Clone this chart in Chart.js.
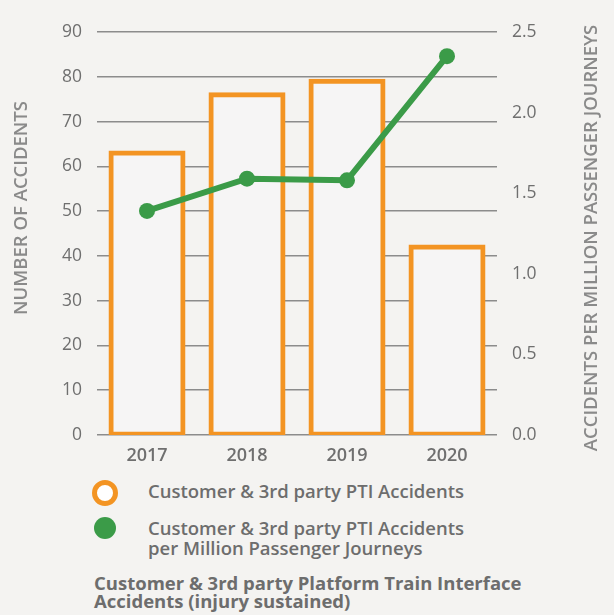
<!DOCTYPE html>
<html>
<head>
<meta charset="utf-8">
<script src="https://cdn.jsdelivr.net/npm/chart.js@4"></script>
<style>
  html, body { margin: 0; padding: 0; background: #f4f3f1; }
  body { width: 614px; height: 615px; position: relative; overflow: hidden; font-family: "Open Sans", sans-serif; }
  #wrap { position: absolute; left: 0; top: 0; width: 614px; height: 470px; }
  .txt { position: absolute; left: 148px; color: #6d6d6d; font-weight: 600; font-size: 18.5px; line-height: 20px; white-space: nowrap; }
  .mark { position: absolute; border-radius: 50%; box-sizing: border-box; }
  #note { position: absolute; left: 94px; top: 574px; color: #6d6d6d; font-weight: 700; font-size: 18.5px; line-height: 18px; white-space: nowrap; }
</style>
</head>
<body>
<div id="wrap"><canvas id="chart"></canvas></div>

<div class="mark" style="left:92px; top:480px; width:26px; height:26px; border:5px solid #f39423; background:#ffffff;"></div>
<div class="txt" id="leg-bars" style="top:481px;"></div>
<div class="mark" style="left:94px; top:517px; width:22px; height:22px; background:#3b9b48;"></div>
<div class="txt" id="leg-line" style="top:518px;"></div>
<div id="note">Customer &amp; 3rd party Platform Train Interface<br>Accidents (injury sustained)</div>

<script>
// ---- data ----
const years = ['2017', '2018', '2019', '2020'];
const accidents = [63, 76, 79, 42];
const perMillion = [1.39, 1.59, 1.58, 2.35];
const leftTicks = [0, 10, 20, 30, 40, 50, 60, 70, 80, 90];
const rightTicks = [0, 0.5, 1.0, 1.5, 2.0, 2.5];

const barLabel = 'Customer & 3rd party PTI Accidents';
const lineLabel = ['Customer & 3rd party PTI Accidents', 'per Million Passenger Journeys'];
const leftTitle = 'NUMBER OF ACCIDENTS';
const rightTitle = 'ACCIDENTS PER MILLION PASSENGER JOURNEYS';

document.getElementById('leg-bars').textContent = barLabel;
const legLine = document.getElementById('leg-line');
lineLabel.forEach((t, i) => {
  if (i) legLine.appendChild(document.createElement('br'));
  legLine.appendChild(document.createTextNode(t));
});

const ORANGE = '#f39423';
const GREEN = '#3b9b48';
const TICK = '#6f6f6f';
const TITLE = '#8a8a8a';

// rotated axis titles
const axisTitles = {
  id: 'axisTitles',
  afterDraw(chart) {
    const ctx = chart.ctx;
    [[leftTitle, 22, 208], [rightTitle, 592, 238]].forEach(([text, x, y]) => {
      ctx.save();
      ctx.fillStyle = TITLE;
      ctx.font = '600 18.5px "Open Sans"';
      ctx.textAlign = 'center';
      ctx.textBaseline = 'middle';
      ctx.translate(x, y);
      ctx.rotate(-Math.PI / 2);
      ctx.fillText(text, 0, 0);
      ctx.restore();
    });
  }
};

new Chart(document.getElementById('chart'), {
  type: 'bar',
  data: {
    labels: years,
    datasets: [
      {
        type: 'line',
        label: lineLabel.join(' '),
        data: perMillion,
        yAxisID: 'y1',
        borderColor: GREEN,
        backgroundColor: GREEN,
        borderWidth: 6,
        pointRadius: 8,
        pointBackgroundColor: GREEN,
        pointBorderWidth: 0,
        tension: 0,
        order: 0,
        clip: false
      },
      {
        label: barLabel,
        data: accidents,
        yAxisID: 'y',
        backgroundColor: '#f6f5f5',
        borderColor: ORANGE,
        borderWidth: 5,
        borderSkipped: false,
        inflateAmount: 2.5, // border straddles the bar edge like in the original
        categoryPercentage: 1,
        barPercentage: 0.72,
        order: 1
      }
    ]
  },
  options: {
    responsive: true,
    maintainAspectRatio: false,
    animation: false,
    layout: { padding: { top: 32, bottom: 0, left: 0, right: 0 } },
    plugins: { legend: { display: false }, tooltip: { enabled: false } },
    scales: {
      x: {
        grid: { display: false, drawTicks: false },
        border: { display: false },
        ticks: { color: TICK, padding: 10, font: { family: 'Open Sans', size: 18, weight: 600 } },
        afterFit(scale) { scale.height = 35; }
      },
      y: {
        position: 'left',
        min: 0,
        max: 90,
        afterBuildTicks(scale) { scale.ticks = leftTicks.map(v => ({ value: v })); },
        grid: { color: '#8c8c8c', lineWidth: 1.5, drawTicks: false },
        border: { display: false },
        ticks: { color: TICK, padding: 15, font: { family: 'Open Sans', size: 17.5 } },
        afterFit(scale) { scale.width = 97; }
      },
      y1: {
        position: 'right',
        min: 0,
        max: 2.5,
        afterBuildTicks(scale) { scale.ticks = rightTicks.map(v => ({ value: v })); },
        grid: { display: false, drawTicks: false },
        border: { display: false },
        ticks: {
          color: TICK, padding: 15, font: { family: 'Open Sans', size: 17.5 },
          callback: v => Number(v).toFixed(1)
        },
        afterFit(scale) { scale.width = 117; }
      }
    }
  },
  plugins: [axisTitles]
});
</script>
</body>
</html>
